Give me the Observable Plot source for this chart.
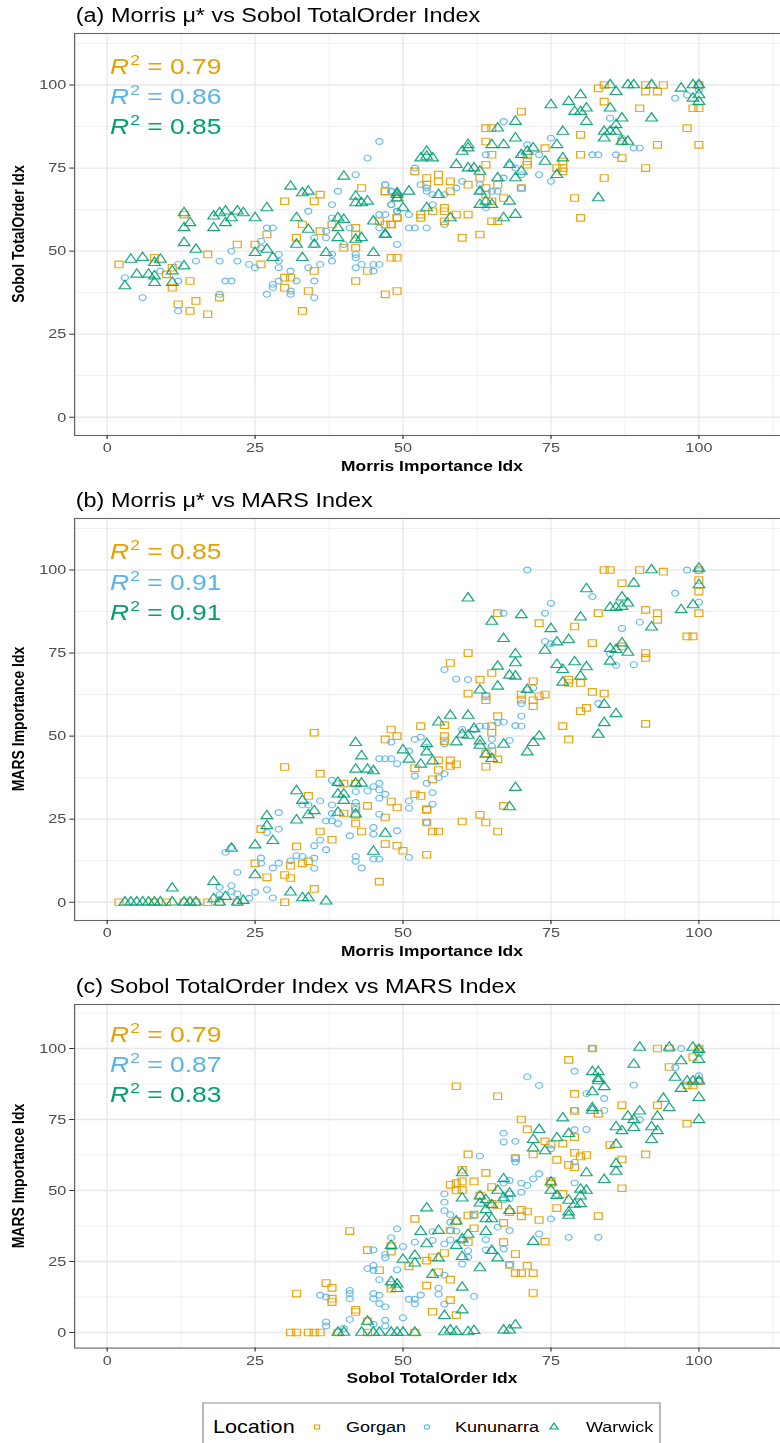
<!DOCTYPE html>
<html><head><meta charset="utf-8">
<script src="https://cdn.jsdelivr.net/npm/d3@7"></script>
<script src="https://cdn.jsdelivr.net/npm/@observablehq/plot@0.6"></script>
<style>
html,body{margin:0;padding:0;background:#fff;overflow:hidden;}
#outer{position:relative;width:780px;height:1443px;overflow:hidden;background:#fff;}
#inner{position:absolute;left:0;top:0;width:660px;height:1443px;transform:scaleX(1.2);transform-origin:0 0;font-family:"Liberation Sans",Arial,Helvetica,sans-serif;}
.t{position:absolute;white-space:nowrap;}
</style></head>
<body><div id="outer"><div id="inner"></div></div>
<script>
// ---------------- data ----------------
const locations = ["Gorgan", "Kununarra", "Warwick"];
const colors = ["#E69F00", "#56B4E9", "#009E73"];
const panelTitles = ["(a) Morris μ* vs Sobol TotalOrder Index", "(b) Morris μ* vs MARS Index", "(c) Sobol TotalOrder Index vs MARS Index"];
const xTitles = ["Morris Importance Idx", "Morris Importance Idx", "Sobol TotalOrder Idx"];
const yTitles = ["Sobol TotalOrder Idx", "MARS Importance Idx", "MARS Importance Idx"];
const r2a = ["0.79", "0.86", "0.85"];
const r2b = ["0.85", "0.91", "0.91"];
const r2c = ["0.79", "0.87", "0.83"];
const tickValues = [0, 25, 50, 75, 100];
const minorValues = [12.5, 37.5, 62.5, 87.5, 112.5];

// panel (a): Morris (x) vs Sobol (y)
const aGorgan = [[43,69],[30,65],[35,65],[36,67],[13,61],[27,55],[22,52],[25,52],[17,49],[26,46],[2,46],[8,48],[11,45],[10,43],[11,39],[14,41],[12,34],[15,35],[14,32],[17,31],[19,36],[30,42],[31,42],[30,39],[34,38],[35,44],[33,32],[32,54],[33,58],[36,56],[38,58],[40,51],[42,51],[42,57],[42,55],[42,41],[44,44],[47,68],[49,66],[46,59],[48,58],[49,60],[48,48],[49,48],[47,37],[49,38],
[84,100],[83,99],[91,100],[91,98],[93,98],[94,100],[84,95],[90,93],[100,100],[100,93],[99,93],[98,87],[93,82],[100,82],[70,92],[64,87],[65,87],[64,83],[65,79],[64,76],[74,81],[80,85],[71,79],[71,77],[71,76],[77,77],[77,75],[77,74],[76,75],[80,79],[87,78],[87,83],[91,75],[84,72],[79,66],[80,60],[63,72],[66,70],[61,70],[64,69],[64,67],[65,65],[67,66],[70,69],[54,72],[54,70],[56,73],[56,71],[58,71],[58,68],[52,74],[49,66],[47,68],[55,62],[57,63],[57,62],[59,61],[61,61],[53,61],[53,60],[49,60],[48,58],[47,58],[57,59],[65,59],[66,59],[60,54],[63,55]];
const aKununarra = [[44,78],[42,73],[39,68],[47,70],[48,68],[49,67],[38,64],[34,62],[38,60],[41,57],[40,52],[37,56],[37,54],[35,54],[35,52],[27,57],[28,57],[26,53],[26,51],[21,50],[15,47],[19,47],[22,47],[24,46],[25,45],[29,49],[29,47],[29,45],[34,45],[36,46],[38,47],[38,49],[31,44],[32,41],[29,41],[28,40],[28,39],[27,37],[31,38],[31,37],[35,41],[35,36],[20,41],[21,41],[19,37],[12,41],[12,32],[12,46],[9,44],[3,42],[6,36],[42,45],[42,49],[42,48],[43,46],[45,46],[46,46],[45,44],[46,61],[46,57],[47,55],[48,64],[49,62],[49,52],
[100,99.5],[100,98.5],[98,97],[96,96],[85,90],[87,84],[89,81],[90,81],[82,79],[83,79],[86,79],[75,84],[71,82],[70,79],[73,79],[67,89],[64,79],[68,76],[69,75],[70,73],[73,73],[75,71],[67,72],[60,71],[59,69],[63,70],[63,68],[65,68],[66,68],[70,69],[54,69],[54,68],[55,67],[57,67],[52,75],[53,70],[47,70],[48,68],[48,64],[49,62],[55,64],[51,61],[51,57],[52,57],[54,57],[57,58],[64,63],[47,61],[46,83]];
const aWarwick = [[40,72.5],[31,69.5],[33,67.5],[34,68],[27,63],[19,61.5],[20,62],[22,62],[23,61.5],[25,60],[13,61.5],[18,60.5],[21,60],[13,57],[14,58.5],[18,57],[20,58.5],[32,60],[34,56.5],[39,60],[40,59.5],[39,57],[42,66.5],[42,64.5],[43,64.5],[44,65],[13,52.5],[15,50.5],[25,49.5],[27,50.5],[28,48],[32,52],[35,52],[33,48],[37,49.5],[39,54],[42,53.5],[43,54],[45,49.5],[45,59],[47,55],[49,67.5],[49,66],[4,47.5],[6,48],[8,46.5],[9,47.5],[5,43],[7,43],[8,42.5],[3,39.5],[8,40.5],[11,40.5],[11,44],[13,45.5],
[85,100],[88,100],[89,100],[92,100],[86,98],[97,99],[99,100],[100,100],[100,97],[100,95],[99,96],[80,97],[78,95],[75,94],[79,92],[80,92],[81,93],[85,93],[81,89],[87,90],[86,88],[92,90],[69,89],[77,86],[84,86],[85,86],[86,86],[84,84],[87,83],[88,83],[66,87],[69,84],[76,82],[72,81],[71,80],[70,79],[74,77],[77,78],[76,73],[65,82],[67,82],[61,82],[61,81],[60,80],[54,80],[53,78],[55,78],[54,78.5],[59,76],[61,75],[62,75],[63,74],[68,76],[70,74],[66,72],[69,72],[51,68],[49,67],[56,67],[63,68],[63,64],[64,65],[65,64],[68,65],[83,66],[54,63],[50,63],[58,60],[67,60],[69,61],[47,55]];

// panel (b): Morris (x) vs MARS (y)
const bGorgan = [[35,51],[30,40.7],[36,38.7],[48,52],[49,50],[47,49],[53,53],[34,32],[42,35.7],[42,28.7],[42,26.3],[42,23.7],[40,35.7],[40,26.7],[44,29],[48,30.3],[49,28.5],[47,25.5],[52,40.3],[52,32.5],[53,32],[55,37],[54,27.8],[55,21.3],[26,22],[36,21.3],[38,18.8],[32,16.8],[43,21.3],[47,17.5],[49,17],[50,15.5],[54,14.3],[25,11.7],[31,11],[33,11.7],[34,12.3],[27,7.5],[30,8.2],[31,7.3],[46,6.2],[35,4],[30,0],[2,0],[8,0],[10,0],[13,0],[15,0],[17,0],[19,0],[22,0],
[84,100],[85,100],[90,100],[94,99.5],[100,100],[100,97],[100,93.5],[100,87],[87,96],[91,88],[93,87],[93,85],[83,87],[98,80],[99,80],[79,83],[73,84],[66,87],[82,78],[87,77],[91,75],[91,73.5],[61,75],[58,72],[65,69],[63,67],[72,66.5],[78,67],[78,66],[80,66],[82,63.3],[84,62.8],[61,62.8],[64,62],[64,60.8],[70,62.5],[70,61],[72,60.8],[72,59],[73,62],[74,62.5],[81,58.5],[80,57.5],[91,53.7],[77,53],[78,49],[66,56],[65,53],[65,51],[65,45.5],[57,53.3],[57,50],[57,48.5],[66,43],[64,44.8],[64,40.8],[56,42.7],[58,42.7],[58,41],[59,41.5],[56,39.8],[54,28],[54,24],[56,21.3],[60,24.3],[63,26.3],[64,24],[66,21.3],[67,29]];
const bKununarra = [[29,27],[29,22],[27,21],[20,15],[21,16.5],[22,9],[19,4.5],[21,5],[21,3.2],[19,2.3],[22,2.5],[24,1.2],[25,3],[27,3.8],[28,1.3],[26,13.3],[26,11.7],[28,10.3],[29,11.8],[31,12.5],[32,14],[33,13.8],[35,13.3],[35,10.2],[35,17],[36,18.7],[37,15.8],[33,29.3],[34,29.3],[36,30.5],[37,24.5],[38,24.5],[39,23.7],[38,29.3],[38,26.7],[38,36.7],[39,35.7],[41,20],[42,30],[42,28],[42,33.3],[42,13.8],[42,12.3],[43,10.3],[45,22.5],[45,20.5],[45,13],[46,13],[44,33.5],[45,34.8],[46,35.8],[46,33.8],[46,31.3],[47,32.5],[46,26.5],[49,21.5],[51,30.5],[51,28.3],[51,13.5],[54,35.8],[55,33],[55,29.5],[48,48.2],[49,41.7],[47,43.2],[48,43.2],[46,43.2],[52,49],[53,49.7],[51,45.5],[54,46.7],
[71,100],[98,100],[100,99.8],[96,93],[100,90.3],[82,92],[90,84.3],[87,82.4],[75,90],[74,87],[67,87],[74,78.5],[75,77.8],[85,74.8],[86,71.3],[89,71.5],[83,59.8],[72,64.5],[71,64],[70,59.8],[70,56],[69,53.2],[70,53],[67,54.2],[66,54],[64,62.3],[64,53],[63,53],[62,52],[60,52],[65,49],[65,47],[68,48.7],[57,70],[59,67.2],[61,67],[57,47.7],[52,38],[56,37.5],[57,38.7],[54,24]];
const bWarwick = [[42,48],[43,44],[42,40],[44,40],[45,39.5],[39,36],[42,35.8],[43,35.8],[32,33.5],[33,30.6],[34,26.3],[35,27.5],[39,32.5],[40,32.5],[40,30.6],[39,27],[42,26.5],[32,24.7],[27,26],[27,23],[28,18.5],[25,17.2],[21,16.2],[47,20.7],[45,15.3],[25,8.2],[18,6.2],[11,4.2],[31,3],[33,1.3],[34,1.3],[37,0.3],[20,1.7],[18,1],[3,0],[4,0],[5,0],[6,0],[7,0],[8,0],[9,0],[11,0],[13,0],[14,0],[15,0],[19,0],[22,0],[23,0.5],
[92,100],[89,96],[81,94.3],[100,100.5],[100,95.5],[99,89.5],[97,88],[92,82.8],[87,91.8],[88,90],[87,89],[86,88.7],[85,88.7],[80,85.8],[75,82.3],[78,79],[76,78.3],[61,91.5],[65,84.5],[70,86.5],[67,79.3],[74,75.8],[85,76.3],[86,76],[87,78],[88,75.2],[85,72.5],[69,74.7],[69,72],[66,71],[68,68.3],[69,68],[76,71.5],[77,70],[79,72.3],[81,70.8],[77,66.2],[80,68],[66,65],[63,63.8],[71,64],[84,59.5],[86,56.7],[84,54],[83,50.5],[58,56.2],[61,56.2],[56,54.2],[62,52.2],[60,50.5],[61,50.2],[59,48.2],[63,48.5],[63,47.2],[67,47.5],[73,50],[72,48],[71,45.2],[54,47.7],[54,45.2],[50,45.8],[51,43],[53,41.5],[55,42.5],[64,44.5],[65,43.2],[69,34.5],[68,28.7]];

// panel (c): Sobol (x) vs MARS (y)
const cGorgan = [[41,35.7],[52,40],[44,29],[48,28.5],[48,30.4],[46,21.9],[51,23.3],[37,17.4],[38,15.7],[32,13.7],[38,11.9],[38,10.7],[48,15.4],[48,16.8],[42,8],[42,7.2],[44,3.9],[31,0],[32,0],[34,0],[35,0],[36,0],[39,0],[44,0],[52,0],
[82,100],[78,96],[93,100],[95,100],[100,100],[100,98.8],[99,97],[95,93.5],[98,87],[99,87],[100,88.6],[59,86.7],[66,83.2],[79,84],[87,80],[93,80],[79,78],[83,77],[98,73.5],[70,75],[71,71.5],[74,67.3],[75,66.2],[77,66.5],[79,68.8],[85,66],[61,62.7],[69,61.4],[72,62.7],[79,63.3],[80,62],[81,62.5],[91,62.7],[76,60.8],[87,60.9],[78,59],[79,58.2],[60,57.3],[64,56.2],[58,52],[59,52.6],[60,53.2],[62,53.2],[59,50],[60,50.2],[65,51.2],[75,53.3],[75,52.4],[77,48.8],[87,50.8],[63,48.2],[65,45.3],[66,44.7],[61,41.2],[62,41.5],[68,42.4],[71,42.6],[70,43.2],[70,40.9],[67,38.6],[59,39.2],[73,39.6],[76,43.8],[83,41],[58,35.9],[62,36.7],[61,31.8],[67,31.8],[74,32],[69,27.6],[57,28],[55,26.5],[54,25.3],[56,21.2],[58,18.6],[68,23.8],[69,20.9],[70,20.9],[72,20.9],[71,23.5],[54,16.5],[58,11.4],[55,7.3],[59,6.1],[72,13.9]];
const cKununarra = [[49,36.5],[48,33.4],[52,31.8],[50,30.3],[45,29.1],[47,27.5],[47,26.3],[44,22.5],[45,23.6],[45,21.9],[49,22.1],[46,18.6],[51,11.7],[52,11.7],[36,13.1],[37,12.5],[41,14.8],[41,13.7],[41,11.9],[45,13.7],[45,11.9],[46,13.1],[46,10.2],[47,9],[41,4.6],[37,3.7],[37,2.3],[40,1.4],[45,2.9],[47,4.3],[47,2.3],[50,5.2],[52,10.1],
[82,100],[97,100],[100,99.6],[100,98.2],[100,90.4],[100,88.8],[96,93.3],[79,92],[71,90],[73,87],[81,84.1],[84,82.4],[84,78.2],[79,78.2],[89,87.1],[90,74.9],[67,70.2],[67,67.1],[69,67.3],[79,71.4],[81,71.5],[63,62.1],[69,60],[69,61.4],[75,64.7],[79,60],[79,52.7],[73,55.9],[72,54.1],[71,51.8],[70,52.6],[70,49.4],[68,53.5],[67,52.6],[68,48.8],[68,47.1],[67,46.7],[76,48.6],[57,48.8],[57,45.9],[57,42.9],[58,41.5],[62,41.2],[75,40],[58,38.8],[58,35.9],[58,32.6],[57,31.2],[55,35.5],[55,32.4],[64,32.7],[64,29.1],[67,29.4],[66,37.1],[68,35.9],[61,28.8],[61,26.5],[60,24.1],[68,23.8],[78,33.5],[83,33.5],[73,34.7],[57,20.2],[56,15.6],[56,13.5],[53,13.2],[62,12.7],[57,10],[59,35.7],[60,32.4],[65,28.9]];
const cWarwick = [[48,30.6],[50,25.7],[52,27.1],[52,24.4],[48,17.8],[49,17],[49,15.4],[44,3.9],[39,0],[40,0],[43,0],[45,0],[46,0],[48,0],[49,0],[50,0],[52,0],
[90,100.4],[95,100.4],[99,100.4],[100,99.6],[100,96.1],[89,94.4],[97,95.6],[82,91.8],[83,91.8],[83,89.4],[83,88.6],[84,86.5],[82,84.7],[96,89.8],[97,85.9],[98,88.5],[99,88.5],[100,88.5],[100,82.7],[94,82.4],[95,79.1],[93,76.1],[90,77.9],[88,76.1],[89,74.9],[100,74.9],[82,79.1],[82,78.2],[77,75.5],[86,72.4],[87,71],[89,72.1],[92,72.4],[93,71],[92,67.9],[86,66.2],[73,71.4],[72,67.9],[72,64.9],[74,63.9],[76,68.5],[78,70],[86,59.4],[86,56.7],[84,53.8],[81,56.2],[60,56.2],[67,54.1],[75,52.9],[75,50],[76,48.2],[78,46.5],[80,50.4],[81,50],[80,48],[80,45.3],[79,45.1],[78,42.4],[78,41.2],[60,47.3],[63,48],[63,45.5],[64,46.7],[65,44.9],[66,50],[67,47.4],[68,49],[64,43.2],[64,40],[65,40],[68,42.9],[54,43.8],[53,35.5],[56,35.9],[54,31.2],[59,39.2],[64,35.5],[60,32.9],[59,30.6],[61,34.5],[65,28.8],[66,26.2],[60,26.7],[72,32],[55,20.4],[56,26.2],[63,22.7],[60,15.9],[57,5.9],[60,7.9],[57,0.2],[58,0.8],[59,0.3],[61,0.2],[62,0.6],[67,0.8],[68,0.8],[69,2.6]];

const panelData = [
  [aGorgan, aKununarra, aWarwick],
  [bGorgan, bKununarra, bWarwick],
  [cGorgan, cKununarra, cWarwick]
];
const r2Values = [r2a, r2b, r2c];

// ---------------- layout ----------------
const S = 1.2;              // horizontal stretch of the reference
const W = 660;              // svg width before stretch
const XL = 74 / S, XR = 790 / S;
const domain = [-5.5, 115.5];
const panels = [
  {top: 33, bottom: 435, r2: [42, 72, 102]},
  {top: 518, bottom: 920, r2: [42, 73, 103]},
  {top: 1004, bottom: 1347.6, r2: [39, 69, 99]}
];
const symbols = ["square", "circle", "triangle"];
const radii = [3.7, 2.9, 3.6];
const inner = document.getElementById("inner");
const FONT = "'Liberation Sans', Arial, Helvetica, sans-serif";

function addText(html, x, baseline, size, extra = "") {
  const d = document.createElement("div");
  d.className = "t";
  d.style.cssText = `left:${x}px;top:${baseline - 0.847 * size}px;font-size:${size}px;line-height:${size}px;${extra}`;
  d.innerHTML = html;
  inner.appendChild(d);
  return d;
}

panels.forEach((p, i) => {
  const mt = 6, mb = 50;
  const h = p.bottom - p.top;
  const marks = [
    Plot.gridX({ticks: minorValues, stroke: "#ececec", strokeOpacity: 1, strokeWidth: 0.7}),
    Plot.gridY({ticks: minorValues, stroke: "#ececec", strokeOpacity: 1, strokeWidth: 0.8}),
    Plot.gridX({ticks: tickValues, stroke: "#e8e8e8", strokeOpacity: 1, strokeWidth: 1.1}),
    Plot.gridY({ticks: tickValues, stroke: "#e8e8e8", strokeOpacity: 1, strokeWidth: 1.3})
  ];
  panelData[i].forEach((series, k) => {
    marks.push(Plot.dot(series, {
      x: d => d[0], y: d => d[1], symbol: symbols[k], r: radii[k],
      stroke: colors[k], fill: "none", strokeWidth: 1.1, strokeOpacity: 0.9
    }));
  });
  marks.push(Plot.frame({stroke: "#666", strokeWidth: 1.1}));
  marks.push(Plot.axisX({ticks: tickValues, tickSize: 4, tickPadding: 3, stroke: "#333", fill: "#4d4d4d", label: null}));
  marks.push(Plot.axisY({ticks: tickValues, tickSize: 4, tickPadding: 3, stroke: "#333", fill: "#4d4d4d", label: null}));
  const chart = Plot.plot({
    width: W, height: h + mt + mb,
    marginLeft: XL, marginRight: W - XR, marginTop: mt, marginBottom: mb,
    x: {domain, axis: null}, y: {domain, axis: null},
    style: {fontFamily: FONT, fontSize: "13.5px", background: "transparent", overflow: "visible"},
    marks
  });
  chart.style.position = "absolute";
  chart.style.left = "0px";
  chart.style.top = (p.top - mt) + "px";
  inner.appendChild(chart);

  // title
  addText(panelTitles[i], XL + 1.5, p.top - 10.3, 19.5, "color:#000;");
  // R² labels
  r2Values[i].forEach((v, k) => {
    addText(`<i>R</i><span style="font-size:0.66em;position:relative;top:-0.62em;margin-left:1px">2</span> = ${v}`,
      110 / S, p.top + p.r2[k], 22, `color:${colors[k]};`);
  });
  // x-axis title
  addText(xTitles[i], (XL + XR) / 2, p.bottom + 36, 14.5, "font-weight:bold;color:#000;transform:translateX(-50%);");
  // y-axis title
  const yt = document.createElement("div");
  yt.className = "t";
  yt.style.cssText = `left:${15}px;top:${(p.top + p.bottom) / 2}px;font-size:14px;line-height:14px;font-weight:bold;color:#000;transform:translate(-50%,-50%) rotate(-90deg);`;
  yt.textContent = yTitles[i];
  inner.appendChild(yt);
});

// ---------------- legend ----------------
const leg = d3.create("svg")
  .attr("width", 400).attr("height", 60)
  .style("position", "absolute").style("left", "160px").style("top", "1398px")
  .style("font-family", FONT);
const lx = 169.2 - 160, ly = 5;
leg.append("rect").attr("x", lx).attr("y", ly).attr("width", 380.8).attr("height", 52)
  .attr("fill", "#fff").attr("stroke", "#8c8c8c").attr("stroke-width", 1);
leg.append("text").attr("x", 177.5 - 160).attr("y", 1433.5 - 1398).attr("font-size", 18).attr("fill", "#000").text("Location");
const symX = [264.2, 355.8, 461.7];
const txtX = [288.3, 379.2, 488.3];
const legSym = [d3.symbolSquare, d3.symbolCircle, d3.symbolTriangle];
const legSize = [18, 16, 20];
locations.forEach((name, k) => {
  leg.append("path").attr("d", d3.symbol(legSym[k], legSize[k])())
    .attr("transform", `translate(${symX[k] - 160},${1427 - 1398})`)
    .attr("fill", "none").attr("stroke", colors[k]).attr("stroke-width", 1);
  leg.append("text").attr("x", txtX[k] - 160).attr("y", 1432.5 - 1398).attr("font-size", 15).attr("fill", "#000").text(name);
});
inner.appendChild(leg.node());
</script>
</body></html>
